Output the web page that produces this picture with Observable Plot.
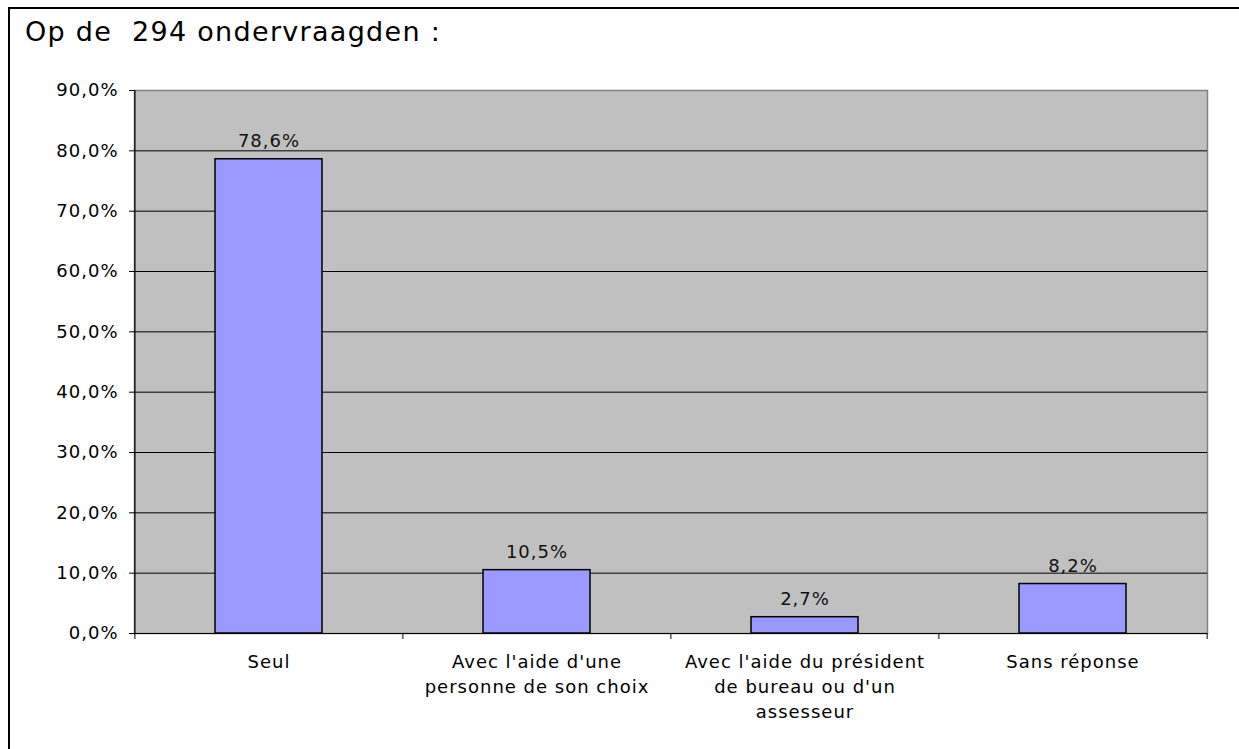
<!DOCTYPE html>
<html>
<head>
<meta charset="utf-8">
<script src="https://cdn.jsdelivr.net/npm/d3@7"></script>
<script src="https://cdn.jsdelivr.net/npm/@observablehq/plot@0.6"></script>
<style>
  html, body { margin: 0; padding: 0; background: white; }
  #wrap { position: relative; width: 1239px; height: 749px; overflow: hidden; background: white; }
  #chart { position: absolute; left: 0; top: 0; }
  #frame { position: absolute; left: 8px; top: 7px; width: 1300px; height: 800px;
           border-top: 2px solid black; border-left: 2px solid black; box-sizing: border-box; }
  #title { position: absolute; left: 25px; top: 18px; font-family: Verdana, "DejaVu Sans", sans-serif;
           font-size: 27px; line-height: 27px; letter-spacing: 1.3px; color: black; white-space: pre; }
</style>
</head>
<body>
<div id="wrap">
  <div id="chart"></div>
  <div id="frame"></div>
  <div id="title">Op de  294 ondervraagden :</div>
</div>
<script>
const categories = [
  "Seul",
  "Avec l'aide d'une personne de son choix",
  "Avec l'aide du président de bureau ou d'un assesseur",
  "Sans réponse"
];
const categoryLabels = [
  "Seul",
  "Avec l'aide d'une\npersonne de son choix",
  "Avec l'aide du président\nde bureau ou d'un\nassesseur",
  "Sans réponse"
];
const values = [78.6, 10.5, 2.7, 8.2];
const yTicks = [0, 10, 20, 30, 40, 50, 60, 70, 80, 90];

const data = categories.map((c, i) => ({cat: c, value: values[i]}));
const labelOf = new Map(categories.map((c, i) => [c, categoryLabels[i]]));
const fmt = v => v.toFixed(1).replace(".", ",") + "%";

const W = 1239, H = 749, ML = 134, MR = 32, MT = 90, MB = 116;
const step = (W - ML - MR) / categories.length;

const chart = Plot.plot({
  width: W, height: H,
  marginLeft: ML, marginRight: MR, marginTop: MT, marginBottom: MB,
  style: {fontFamily: "Verdana, 'DejaVu Sans', sans-serif", fontSize: "18px", letterSpacing: "1px", background: "transparent", color: "black", overflow: "visible"},
  x: {domain: categories, paddingInner: 0.6, paddingOuter: 0.3, align: 0.5},
  y: {domain: [0, 90]},
  marks: [
    Plot.frame({fill: "#C0C0C0", stroke: "#808080", strokeWidth: 1.5}),
    Plot.ruleY(yTicks.filter(t => t > 0 && t < 90), {stroke: "black", strokeWidth: 1}),
    Plot.barY(data, {x: "cat", y: "value", fill: "#9999FF", stroke: "black", strokeWidth: 1.5}),
    Plot.text(data, {x: "cat", y: "value", text: d => fmt(d.value), dy: -12, lineAnchor: "bottom", fill: "#111", fontSize: 18}),
    Plot.ruleY([0], {stroke: "black", strokeWidth: 1.2}),
    Plot.ruleX([categories[0]], {y1: 0, y2: 90, dx: -step / 2, stroke: "black", strokeWidth: 1.2}),
    Plot.axisY({ticks: yTicks, tickSize: 5, tickPadding: 11, tickFormat: fmt, label: null, fontSize: 18, stroke: "black"}),
    Plot.axisX({tickSize: 6, dx: -step / 2, tickFormat: () => "", label: null, stroke: "black"}),
    Plot.axisX([categories[categories.length - 1]], {tickSize: 6, dx: step / 2, tickFormat: () => "", label: null, stroke: "black"}),
    Plot.axisX({tickSize: 0, tickPadding: 17, tickFormat: d => labelOf.get(d), label: null, lineHeight: 1.39, fontSize: 18})
  ]
});
document.getElementById("chart").appendChild(chart);
</script>
</body>
</html>
